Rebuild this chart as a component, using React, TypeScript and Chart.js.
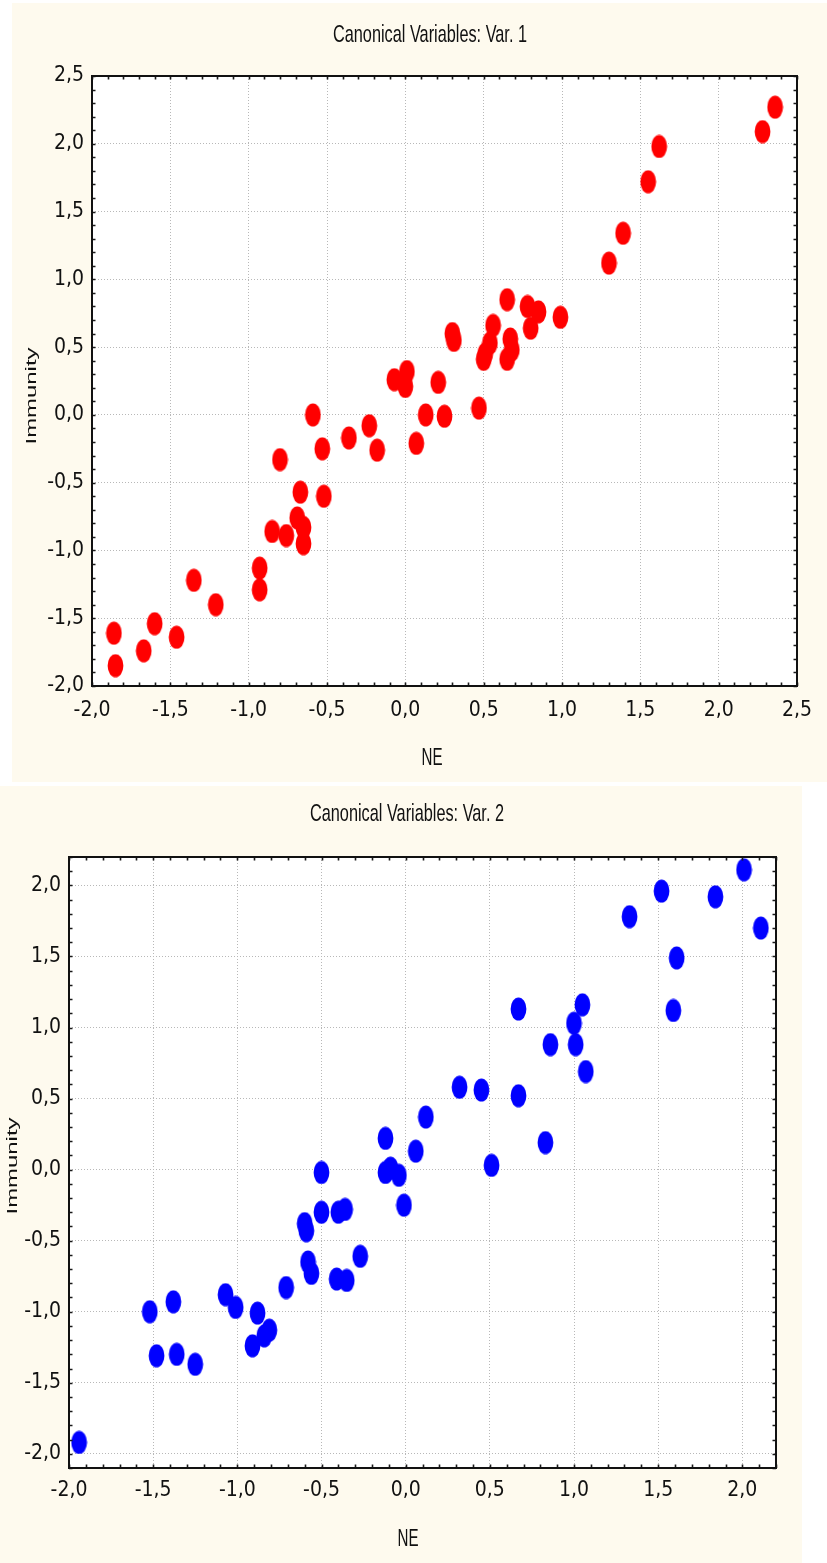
import React, { useEffect, useRef } from "react";
import { Chart, registerables } from "chart.js";

Chart.register(...registerables);

// ---------- data ----------
const var1NE = [
  2.36, 2.28, 1.62, 1.55, 1.39, 1.30, 0.65, 0.78, 0.85, 0.99,
  0.80, 0.56, 0.54, 0.51, 0.50, 0.67, 0.68, 0.65, 0.30, 0.31,
  -0.07, 0.01, 0.00, 0.21, 0.47, 0.13, 0.25, 0.07, -0.59, -0.23,
  -0.36, -0.53, -0.18, -0.80, -0.67, -0.52, -0.69, -0.65, -0.85, -0.76,
  -0.65, -0.93, -0.93, -1.35, -1.21, -1.60, -1.46, -1.86, -1.67, -1.85,
];
const var1Immunity = [
  2.27, 2.09, 1.98, 1.72, 1.34, 1.12, 0.85, 0.80, 0.76, 0.72,
  0.64, 0.66, 0.53, 0.45, 0.41, 0.56, 0.48, 0.41, 0.60, 0.55,
  0.26, 0.32, 0.21, 0.24, 0.05, 0.00, -0.01, -0.21, 0.00, -0.08,
  -0.17, -0.25, -0.26, -0.33, -0.57, -0.60, -0.76, -0.83, -0.86, -0.89,
  -0.95, -1.13, -1.29, -1.22, -1.40, -1.54, -1.64, -1.61, -1.74, -1.85,
];

const var2NE = [
  2.01, 1.52, 1.84, 1.33, 2.11, 1.61, 1.59, 1.05, 1.00, 1.01,
  1.07, 0.67, 0.86, 0.32, 0.45, 0.67, 0.83, 0.51, 0.12, 0.06,
  -0.12, -0.12, -0.09, -0.04, -0.01, -0.50, -0.50, -0.40, -0.36, -0.60,
  -0.59, -0.27, -0.58, -0.56, -0.41, -0.35, -0.71, -1.07, -1.01, -0.88,
  -0.81, -0.84, -0.91, -1.52, -1.38, -1.48, -1.36, -1.25, -1.94,
];
const var2Immunity = [
  2.11, 1.96, 1.92, 1.78, 1.70, 1.49, 1.12, 1.16, 1.03, 0.88,
  0.69, 1.13, 0.88, 0.58, 0.56, 0.52, 0.19, 0.03, 0.37, 0.13,
  0.22, -0.02, 0.01, -0.04, -0.25, -0.02, -0.30, -0.30, -0.28, -0.38,
  -0.43, -0.61, -0.65, -0.73, -0.77, -0.78, -0.83, -0.88, -0.97, -1.01,
  -1.13, -1.17, -1.24, -1.00, -0.93, -1.31, -1.30, -1.37, -1.92,
];

const var1XRange = [-2.0, 2.5];
const var1YRange = [-2.0, 2.5];
const var2XRange = [-2.0, 2.2];
const var2YRange = [-2.1, 2.2];
const tickStep = 0.5;

const title1 = "Canonical Variables: Var. 1";
const title2 = "Canonical Variables: Var. 2";
const xTitle = "NE";
const yTitle = "Immunity";

// ---------- styling ----------
const FONT = "'Liberation Sans Narrow', 'Arial Narrow', 'DejaVu Sans Condensed', sans-serif";
const TEXT_FONT = "'Liberation Sans', Arial, sans-serif";
const CREAM = "rgb(254, 250, 238)";

function makeEllipse(color: string) {
  const c = document.createElement("canvas");
  c.width = 17;
  c.height = 24;
  const ctx = c.getContext("2d")!;
  ctx.fillStyle = color;
  ctx.beginPath();
  ctx.ellipse(8.5, 12, 7.9, 11.6, 0, 0, Math.PI * 2);
  ctx.fill();
  return c;
}

const fmt = (v: any) => Number(v).toFixed(1).replace(".", ",").replace("-0,0", "0,0");

interface PanelSpec {
  xs: number[];
  ys: number[];
  xr: number[];
  yr: number[];
  color: string;
  title: string;
  canvasW: number;
  canvasH: number;
  padTop: number;
  padRight: number;
  yAxisW: number;
  xAxisH: number;
  xTickPad: number;
  titlePos: [number, number, number]; // cx, baseline y, target width
  xTitlePos: [number, number, number];
  yTitlePos: [number, number, number]; // baseline x, cy, target length
}

function textPlugin(p: PanelSpec) {
  return {
    id: "frameAndText",
    beforeDraw(chart: any) {
      const { ctx, chartArea: a } = chart;
      ctx.save();
      ctx.fillStyle = "#ffffff";
      ctx.fillRect(a.left, a.top, a.right - a.left, a.bottom - a.top);
      ctx.restore();
    },
    afterDraw(chart: any) {
      const { ctx, chartArea: a, scales } = chart;
      ctx.save();
      // minor/major ticks inward on all four sides
      ctx.strokeStyle = "#1a1a1a";
      ctx.lineWidth = 1.6;
      const tl = 3.5;
      const xs = scales.x;
      const ys = scales.y;
      for (let k = Math.ceil(p.xr[0] * 10 - 1e-6); k <= Math.floor(p.xr[1] * 10 + 1e-6); k++) {
        const px = Math.round(xs.getPixelForValue(k / 10)) + 0.5;
        ctx.beginPath();
        ctx.moveTo(px, a.bottom);
        ctx.lineTo(px, a.bottom - tl);
        ctx.moveTo(px, a.top);
        ctx.lineTo(px, a.top + tl);
        ctx.stroke();
      }
      for (let k = Math.ceil(p.yr[0] * 10 - 1e-6); k <= Math.floor(p.yr[1] * 10 + 1e-6); k++) {
        const py = Math.round(ys.getPixelForValue(k / 10)) + 0.5;
        ctx.beginPath();
        ctx.moveTo(a.left, py);
        ctx.lineTo(a.left + tl, py);
        ctx.moveTo(a.right, py);
        ctx.lineTo(a.right - tl, py);
        ctx.stroke();
      }
      // frame
      ctx.strokeStyle = "#111111";
      ctx.lineWidth = 2;
      ctx.strokeRect(a.left, a.top, a.right - a.left, a.bottom - a.top);

      // texts
      ctx.fillStyle = "#111111";
      ctx.textAlign = "center";
      ctx.textBaseline = "alphabetic";
      const drawStretched = (text: string, x: number, y: number, targetW: number, size: number, sy: number, rot: number) => {
        ctx.save();
        ctx.font = `${size}px ${TEXT_FONT}`;
        const w = ctx.measureText(text).width;
        ctx.translate(x, y);
        ctx.rotate(rot);
        ctx.scale(targetW / w, sy);
        ctx.fillText(text, 0, 0);
        ctx.restore();
      };
      drawStretched(p.title, p.titlePos[0], p.titlePos[1], p.titlePos[2], 20, 1.24, 0);
      drawStretched(xTitle, p.xTitlePos[0], p.xTitlePos[1], p.xTitlePos[2], 20, 1.2, 0);
      drawStretched(yTitle, p.yTitlePos[0], p.yTitlePos[1], p.yTitlePos[2], 14, 1.0, -Math.PI / 2);
      ctx.restore();
    },
  };
}

function buildConfig(p: PanelSpec): any {
  const tickFont = { family: FONT, size: 21 };
  return {
    type: "scatter",
    data: {
      datasets: [
        {
          data: p.xs.map((v, i) => ({ x: v, y: p.ys[i] })),
          pointStyle: makeEllipse(p.color),
          pointRadius: 8,
          pointHoverRadius: 8,
          backgroundColor: p.color,
          borderColor: p.color,
        },
      ],
    },
    options: {
      animation: false,
      responsive: false,
      maintainAspectRatio: false,
      events: [],
      layout: { padding: { left: 0, top: p.padTop, right: p.padRight, bottom: 0 } },
      plugins: {
        legend: { display: false },
        tooltip: { enabled: false },
        title: { display: false },
      },
      scales: {
        x: {
          type: "linear",
          min: p.xr[0],
          max: p.xr[1],
          afterFit: (s: any) => {
            s.height = p.xAxisH;
          },
          ticks: {
            stepSize: tickStep,
            includeBounds: false,
            padding: p.xTickPad,
            color: "#111111",
            font: tickFont,
            callback: fmt,
            maxRotation: 0,
            autoSkip: false,
          },
          grid: { drawTicks: false, color: "#b8b8b8", lineWidth: 1 },
          border: { display: false, dash: [1, 2] },
        },
        y: {
          type: "linear",
          min: p.yr[0],
          max: p.yr[1],
          afterFit: (s: any) => {
            s.width = p.yAxisW;
          },
          ticks: {
            stepSize: tickStep,
            includeBounds: false,
            padding: 8,
            color: "#111111",
            font: tickFont,
            callback: fmt,
            autoSkip: false,
          },
          grid: { drawTicks: false, color: "#b8b8b8", lineWidth: 1 },
          border: { display: false, dash: [1, 2] },
        },
      },
    },
    plugins: [textPlugin(p)],
  };
}

const panel1: PanelSpec = {
  xs: var1NE,
  ys: var1Immunity,
  xr: var1XRange,
  yr: var1YRange,
  color: "#ff0000",
  title: title1,
  canvasW: 815,
  canvasH: 779,
  padTop: 73,
  padRight: 30,
  yAxisW: 80,
  xAxisH: 96,
  xTickPad: 12,
  titlePos: [418, 39, 194],
  xTitlePos: [420, 762, 21],
  yTitlePos: [24, 393, 97],
};

const panel2: PanelSpec = {
  xs: var2NE,
  ys: var2Immunity,
  xr: var2XRange,
  yr: var2YRange,
  color: "#0000ff",
  title: title2,
  canvasW: 802,
  canvasH: 777,
  padTop: 71,
  padRight: 26,
  yAxisW: 69,
  xAxisH: 95,
  xTickPad: 10,
  titlePos: [407, 35, 194],
  xTitlePos: [408, 760, 21],
  yTitlePos: [17, 380, 97],
};

function Panel({ spec, left, top }: { spec: PanelSpec; left: number; top: number }) {
  const ref = useRef<HTMLCanvasElement | null>(null);
  useEffect(() => {
    if (!ref.current) return;
    const chart = new Chart(ref.current, buildConfig(spec));
    return () => chart.destroy();
  }, [spec]);
  return (
    <canvas
      ref={ref}
      width={spec.canvasW}
      height={spec.canvasH}
      style={{
        position: "absolute",
        left,
        top,
        width: spec.canvasW,
        height: spec.canvasH,
        background: CREAM,
        display: "block",
      }}
    />
  );
}

export default function App() {
  return (
    <div
      style={{
        position: "absolute",
        left: 0,
        top: 0,
        width: 827,
        height: 1563,
        background: "#ffffff",
        overflow: "hidden",
      }}
    >
      <Panel spec={panel1} left={12} top={3} />
      <Panel spec={panel2} left={0} top={786} />
    </div>
  );
}
